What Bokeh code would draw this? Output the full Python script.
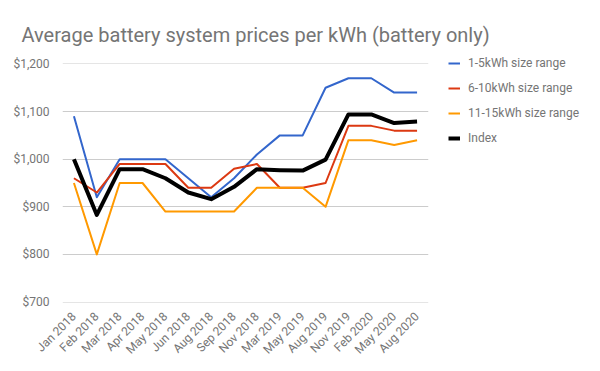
import math
from bokeh.plotting import figure
from bokeh.models import (Range1d, FixedTicker, NumeralTickFormatter, Legend, LegendItem,
                          ColumnDataSource)
from bokeh.embed import file_html
from bokeh.resources import INLINE

months = ["Jan 2018", "Feb 2018", "Mar 2018", "Apr 2018", "May 2018", "Jun 2018",
          "Aug 2018", "Sep 2018", "Nov 2018", "Mar 2019", "May 2019", "Aug 2019",
          "Nov 2019", "Feb 2020", "May 2020", "Aug 2020"]
range_1_5 = [1090, 920, 1000, 1000, 1000, 960, 920, 960, 1010, 1050, 1050, 1150,
             1170, 1170, 1140, 1140]
range_6_10 = [960, 930, 990, 990, 990, 940, 940, 980, 990, 940, 940, 950,
              1070, 1070, 1060, 1060]
range_11_15 = [950, 800, 950, 950, 890, 890, 890, 890, 940, 940, 940, 900,
               1040, 1040, 1030, 1040]
index_vals = [1000, 883, 979, 979, 960, 930, 916, 942, 979, 977, 976, 999,
              1094, 1094, 1076, 1079]
series_names = ["1-5kWh size range", "6-10kWh size range", "11-15kWh size range", "Index"]
y_ticks = [700, 800, 900, 1000, 1100, 1200]

FONT = "Roboto"
GRAY = "#757575"

xs = list(range(len(months)))
src = ColumnDataSource(dict(x=xs, a=range_1_5, b=range_6_10, c=range_11_15, d=index_vals))

p = figure(frame_width=366, frame_height=239, output_backend="svg", toolbar_location=None,
           x_range=Range1d(-0.5, len(months) - 0.5), y_range=Range1d(699, 1201),
           min_border_left=62, min_border_right=172, min_border_top=63, min_border_bottom=69)
p.outline_line_color = None
p.background_fill_color = "white"
p.border_fill_color = "white"

p.title.text = "Average battery system prices per kWh (battery only)"
p.title.text_font = FONT
p.title.text_font_size = "20px"
p.title.text_font_style = "normal"
p.title.text_color = GRAY
p.title.offset = -41
p.title.standoff = 33

colors = ["#3366cc", "#dc3912", "#ff9900", "#000000"]
widths = [2, 2, 2, 4]
renderers = []
for col, c, w in zip(["a", "b", "c", "d"], colors, widths):
    r = p.line("x", col, source=src, line_color=c, line_width=w, line_join="round")
    renderers.append(r)

# axes
p.xaxis.ticker = FixedTicker(ticks=xs)
p.xaxis.major_label_overrides = {i: m for i, m in enumerate(months)}
p.xaxis.major_label_orientation = math.pi / 4
p.xaxis.axis_line_color = None
p.xaxis.major_tick_line_color = None
p.xaxis.minor_tick_line_color = None
p.xaxis.major_label_text_font = FONT
p.xaxis.major_label_text_font_size = "12px"
p.xaxis.major_label_text_color = GRAY
p.xaxis.major_label_standoff = 6

p.yaxis.ticker = FixedTicker(ticks=y_ticks)
p.yaxis.formatter = NumeralTickFormatter(format="$0,0")
p.yaxis.axis_line_color = None
p.yaxis.major_tick_line_color = None
p.yaxis.minor_tick_line_color = None
p.yaxis.major_label_text_font = FONT
p.yaxis.major_label_text_font_size = "12px"
p.yaxis.major_label_text_color = GRAY
p.yaxis.major_label_standoff = 7

p.xgrid.grid_line_color = None
p.ygrid.ticker = FixedTicker(ticks=y_ticks)
p.ygrid.grid_line_color = "#cccccc"
p.ygrid.grid_line_width = 1

legend = Legend(items=[LegendItem(label=n, renderers=[r]) for n, r in zip(series_names, renderers)],
                location=(20, 156), padding=0, margin=0, spacing=9,
                glyph_width=12, glyph_height=16, label_height=16, label_standoff=8,
                label_text_font=FONT, label_text_font_size="12px", label_text_color=GRAY,
                border_line_color=None, background_fill_alpha=0)
p.add_layout(legend, "right")

open("out.html", "w").write(file_html(p, INLINE))
